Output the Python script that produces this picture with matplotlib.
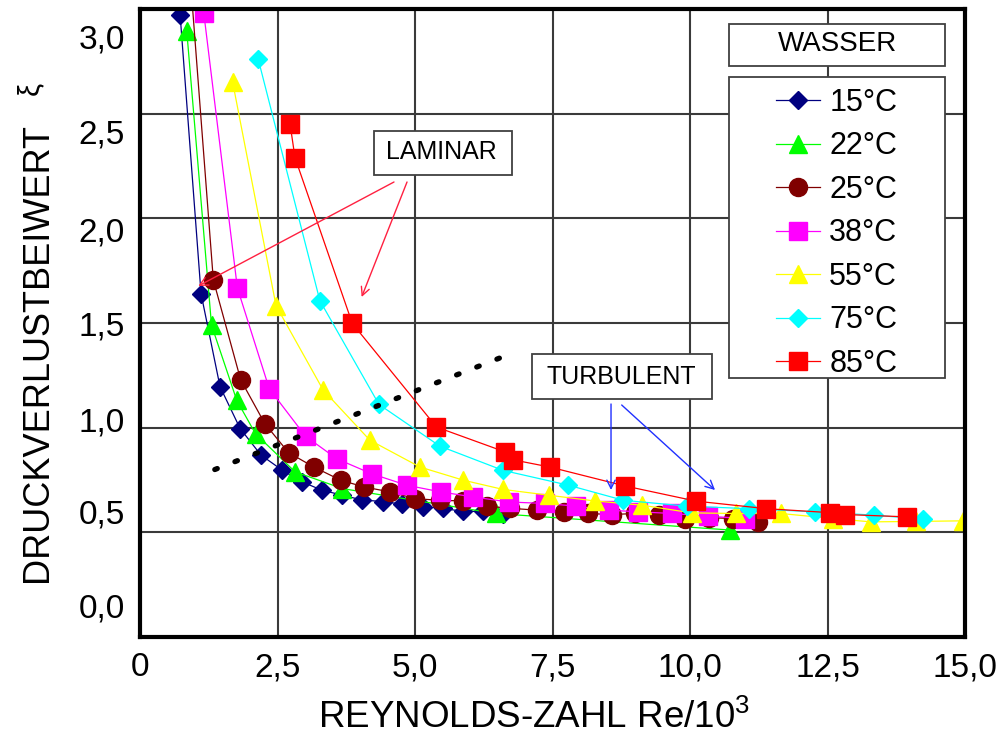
import numpy as np
import matplotlib
matplotlib.use("Agg")
import matplotlib.pyplot as plt
from matplotlib.patches import Rectangle
from matplotlib import font_manager as fm

# ---------------- data ----------------
t15_x = [0.73, 1.11, 1.455, 1.82, 2.20, 2.58, 2.94, 3.30, 3.67, 4.03, 4.41, 4.77, 5.15, 5.51, 5.88, 6.24, 6.60]
t15_y = [2.97, 1.64, 1.196, 0.996, 0.869, 0.798, 0.742, 0.702, 0.678, 0.655, 0.647, 0.635, 0.622, 0.614, 0.600, 0.600, 0.588]

t22_x = [0.85, 1.30, 1.76, 2.10, 2.82, 3.68, 6.47, 10.73]
t22_y = [2.895, 1.49, 1.13, 0.971, 0.789, 0.709, 0.59, 0.511]

t25_x = [0.87, 1.333, 1.83, 2.27, 2.70, 3.16, 3.65, 4.07, 4.55, 5.00, 5.45, 5.88, 6.30, 6.73, 7.21,
         7.70, 8.15, 8.58, 9.00, 9.44, 9.91, 10.35, 10.78, 11.24]
t25_y = [3.30, 1.706, 1.229, 1.019, 0.881, 0.812, 0.749, 0.717, 0.693, 0.661, 0.653, 0.650, 0.625, 0.615, 0.606,
         0.598, 0.590, 0.585, 0.590, 0.582, 0.566, 0.570, 0.566, 0.550]

t38_x = [1.16, 1.77, 2.35, 3.01, 3.58, 4.21, 4.85, 5.47, 6.06, 6.70, 7.36, 7.93, 8.52, 9.06, 9.68, 10.32, 11.00]
t38_y = [2.98, 1.668, 1.186, 0.959, 0.851, 0.780, 0.725, 0.693, 0.669, 0.645, 0.638, 0.625, 0.606, 0.598, 0.590, 0.577, 0.566]

t55_x = [1.685, 2.473, 3.33, 4.18, 5.09, 5.88, 6.60, 7.44, 8.27, 9.12, 10.03, 10.83, 11.65, 12.60, 13.29, 14.10, 14.97]
t55_y = [2.65, 1.583, 1.18, 0.94, 0.812, 0.749, 0.705, 0.677, 0.650, 0.630, 0.593, 0.590, 0.590, 0.566, 0.550, 0.552, 0.555]

t75_x = [2.15, 3.27, 4.345, 5.45, 6.60, 7.79, 8.79, 9.95, 11.08, 12.27, 13.35, 14.23]
t75_y = [2.76, 1.607, 1.111, 0.912, 0.796, 0.725, 0.653, 0.625, 0.613, 0.598, 0.582, 0.563]

t85_x = [2.727, 2.818, 3.86, 5.39, 6.64, 6.79, 7.45, 8.81, 10.11, 11.39, 12.55, 12.82, 13.94]
t85_y = [2.453, 2.29, 1.498, 1.003, 0.884, 0.846, 0.812, 0.722, 0.649, 0.613, 0.594, 0.585, 0.574]

series_labels = ["15°C", "22°C", "25°C", "38°C", "55°C", "75°C", "85°C"]

# transition line (dotted)
trans_x = [1.36, 6.66]
trans_y = [0.80, 1.345]

xtick_values = [0, 2.5, 5.0, 7.5, 10.0, 12.5, 15.0]
xtick_labels = ["0", "2,5", "5,0", "7,5", "10,0", "12,5", "15,0"]
ytick_values = [0, 0.5, 1.0, 1.5, 2.0, 2.5, 3.0]
ytick_labels = ["0,0", "0,5", "1,0", "1,5", "2,0", "2,5", "3,0"]

# ---------------- fonts ----------------
names = {f.name for f in fm.fontManager.ttflist}
REG = "Liberation Sans" if "Liberation Sans" in names else "DejaVu Sans"
NARROW = "Liberation Sans Narrow" if "Liberation Sans Narrow" in names else REG
plt.rcParams["font.family"] = [REG, "DejaVu Sans"]
plt.rcParams["mathtext.default"] = "regular"

# ---------------- figure ----------------
W, H = 999, 749
fig = plt.figure(figsize=(W / 100, H / 100), dpi=100)
L, R, T, B = 140, 965, 9, 637
ax = fig.add_axes([L / W, 1 - B / H, (R - L) / W, (B - T) / H])
ax.set_xlim(0, 15)
ax.set_ylim(0, 3)

def px_y(py):  # pixel row -> axes data y (used only for label placement)
    return (B - py) / (B - T) * 3

styles = [
    ("#000080", "D", 9.5),
    ("#00FF00", "^", 13.5),
    ("#800000", "o", 13.0),
    ("#FF00FF", "s", 12.5),
    ("#FFFF00", "^", 13.5),
    ("#00FFFF", "D", 9.5),
    ("#FF0000", "s", 12.5),
]
xs = [t15_x, t22_x, t25_x, t38_x, t55_x, t75_x, t85_x]
ys = [t15_y, t22_y, t25_y, t38_y, t55_y, t75_y, t85_y]
handles = []
for (c, m, ms), x, y, lab in zip(styles, xs, ys, series_labels):
    h, = ax.plot(x, y, color=c, lw=0.9, marker=m, ms=ms, mfc=c, mec=c, mew=1.0,
                 label=lab, zorder=2)
    handles.append(h)

# dotted transition line
ax.plot(trans_x, trans_y, color="black", lw=3.8, linestyle=(0, (0.5, 3.6)),
        dash_capstyle="round", zorder=2.5)

# grid & ticks
ax.yaxis.remove_overlapping_locs = False
ax.set_xticks(xtick_values)
ax.set_xticklabels(xtick_labels, fontsize=24)
ax.set_yticks(ytick_values)
ax.set_yticklabels([])
ylab_pos = [px_y(p) for p in (606, 511, 420, 324, 229, 132, 36)]
ax.set_yticks(ylab_pos, minor=True)
ax.set_yticklabels(ytick_labels, minor=True, fontsize=24)
ax.tick_params(axis="both", which="both", length=0)
ax.tick_params(axis="x", which="major", pad=11)
ax.tick_params(axis="y", which="minor", pad=11)
ax.grid(True, which="major", color="#3a3a3a", lw=1.5)
ax.set_axisbelow(True)
for s in ax.spines.values():
    s.set_linewidth(3.0)
    s.set_color("black")

# axis labels
ax.set_ylabel("DRUCKVERLUSTBEIWERT", fontsize=26)
ax.yaxis.label.set_va("center")
ax.yaxis.set_label_coords((38 - L) / (R - L), (B - 352) / (B - T))
ax.set_xlabel("REYNOLDS-ZAHL Re/10$^{3}$", fontsize=26.5, family=[NARROW, "DejaVu Sans"])
ax.xaxis.label.set_va("center")
ax.xaxis.set_label_coords((534 - L) / (R - L), (B - 718) / (B - T))
fig.text(30 / W, 1 - 88 / H, "ξ", rotation=90, fontsize=21, ha="center", va="center")

def box(x0, y0, x1, y1, z=5):
    ax.add_patch(Rectangle(((x0 - L) / (R - L), (B - y1) / (B - T)),
                           (x1 - x0) / (R - L), (y1 - y0) / (B - T),
                           transform=ax.transAxes, facecolor="white",
                           edgecolor="#404040", lw=1.3, zorder=z, clip_on=False))

# WASSER box + legend
box(729, 24, 945, 66)
ax.text((837 - L) / (R - L), (B - 44) / (B - T), "WASSER", transform=ax.transAxes,
        fontsize=20, ha="center", va="center", zorder=6)
box(729, 77, 945, 378)
leg = ax.legend(handles=handles, loc="upper left",
                bbox_to_anchor=((776 - L) / (R - L), (B - 88) / (B - T)),
                borderpad=0, borderaxespad=0, frameon=False, fontsize=22,
                handlelength=1.44, handletextpad=0.3, labelspacing=0.44, numpoints=1)
leg.set_zorder(7)

# LAMINAR box + arrows
box(374, 131, 512, 175)
ax.text((441 - L) / (R - L), (B - 152) / (B - T), "LAMINAR", transform=ax.transAxes,
        fontsize=18, ha="center", va="center", zorder=6)
red_arrow = dict(arrowstyle="->,head_length=0.6,head_width=0.3", color="#ff2040", lw=1.0,
                 shrinkA=0, shrinkB=0)
ax.annotate("", xy=(1.06, px_y(286)), xytext=(4.618, px_y(182)), arrowprops=red_arrow, zorder=6)
ax.annotate("", xy=(4.03, px_y(297)), xytext=(4.855, px_y(182)), arrowprops=red_arrow, zorder=6)

# TURBULENT box + arrows
box(532, 354, 712, 399)
ax.text((621 - L) / (R - L), (B - 377) / (B - T), "TURBULENT", transform=ax.transAxes,
        fontsize=18, ha="center", va="center", zorder=6)
blue_arrow = dict(arrowstyle="->,head_length=0.6,head_width=0.3", color="#2030ff", lw=1.0,
                  shrinkA=0, shrinkB=0)
ax.annotate("", xy=(8.564, px_y(490)), xytext=(8.564, px_y(404)), arrowprops=blue_arrow, zorder=6)
ax.annotate("", xy=(10.455, px_y(490)), xytext=(8.758, px_y(405)), arrowprops=blue_arrow, zorder=6)

fig.savefig("out.png", dpi=100)
